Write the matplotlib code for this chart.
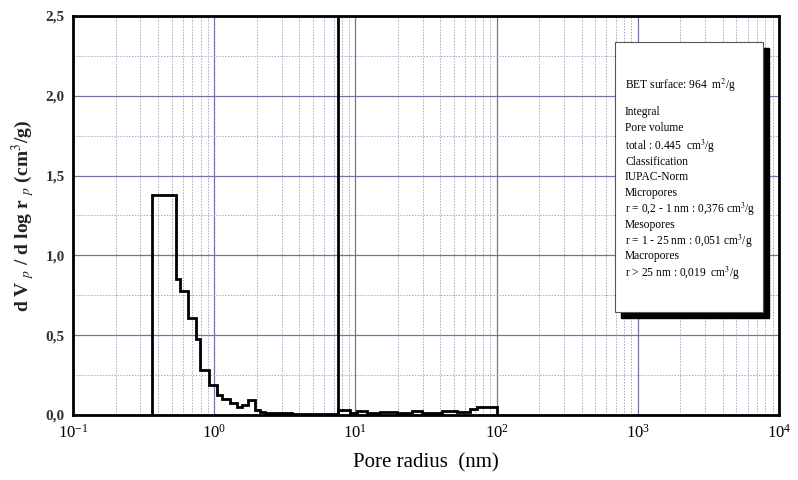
import matplotlib
matplotlib.use("Agg")
import matplotlib.pyplot as plt
from matplotlib.patches import Rectangle
from matplotlib.ticker import LogLocator, MultipleLocator, FuncFormatter

plt.rcParams.update({"font.family": ["Liberation Serif", "DejaVu Serif"],
                     "mathtext.fontset": "stix"})

# pore-size distribution, bin edges (nm) and dV/dlog r (cm3/g)
edges = [0.365, 0.536, 0.573, 0.656, 0.740, 0.792, 0.918, 1.04, 1.13, 1.29, 1.44,
         1.57, 1.74, 1.95, 2.11, 2.29, 3.54, 7.53, 9.16, 10.3, 12.1, 14.9, 19.7,
         25.2, 29.6, 41.0, 52.4, 64.8, 72.6, 100.0]
dv = [1.38, 0.85, 0.775, 0.61, 0.475, 0.28, 0.19, 0.125, 0.10, 0.073,
      0.052, 0.063, 0.094, 0.031, 0.021, 0.012, 0.006, 0.03, 0.015, 0.025,
      0.012, 0.02, 0.01, 0.025, 0.012, 0.025, 0.02, 0.035, 0.05]
split_r = 7.53  # boundary line between methods

info_lines = [
    (r"BET surface: 964  m$^2$/g", 85),
    ("Integral", 112),
    ("Pore volume", 128),
    (r"total : 0.445  cm$^3$/g", 146),
    ("Classification", 162),
    ("IUPAC-Norm", 177),
    ("Micropores", 193),
    (r"r = 0,2 - 1 nm : 0,376 cm$^3$/g", 209),
    ("Mesopores", 225),
    (r"r = 1 - 25 nm : 0,051 cm$^3$/g", 241),
    ("Macropores", 256),
    (r"r > 25 nm : 0,019  cm$^3$/g", 273),
]

fig = plt.figure(figsize=(7.98, 4.80), dpi=100)
ax = fig.add_axes([73/798, 65/480, 706/798, 399/480])

ax.set_xscale("log")
ax.set_xlim(0.1, 1e4)
ax.set_ylim(0, 2.5)
ax.xaxis.set_major_locator(LogLocator(base=10, numticks=10))
ax.xaxis.set_minor_locator(LogLocator(base=10, subs=range(2, 10), numticks=100))
ax.yaxis.set_major_locator(MultipleLocator(0.5))
ax.yaxis.set_minor_locator(MultipleLocator(0.25))
ax.yaxis.set_major_formatter(FuncFormatter(lambda v, p: f"{v:.1f}".replace(".", ",")))

ax.grid(which="major", color="#7474a4", lw=0.9, ls="-")
ax.grid(which="minor", color="#a8a8c4", lw=0.7, ls=(0, (1.5, 1.5)))
ax.set_axisbelow(True)

ax.stairs(dv, edges, baseline=0, fill=False, color="black", lw=2.0, zorder=3)
ax.axvline(split_r, color="black", lw=2.0, zorder=3)

for s in ax.spines.values():
    s.set_linewidth(2.0)
ax.tick_params(which="both", length=0, pad=6)
ax.tick_params(axis="x", labelsize=12)
ax.tick_params(axis="y", labelsize=11, labelcolor="#333333")
for lbl in ax.get_yticklabels():
    lbl.set_fontweight("bold")

ax.set_xlabel("Pore radius  (nm)", fontsize=15, labelpad=9)
ax.set_ylabel(r"d V $_p$ / d log r $_p$ (cm$^3$/g)", fontsize=14, fontweight="bold",
              labelpad=6, color="#222222")

# info box with shadow
def fx(px):
    return (px - 73) / 706

def fy(py):
    return (415 - py) / 399

bx0, bx1, by0, by1 = fx(615), fx(763), fy(312), fy(42)
ax.add_patch(Rectangle((bx0 + 0.008, by0 - 0.014), bx1 - bx0, by1 - by0,
                       transform=ax.transAxes, facecolor="black", edgecolor="black", zorder=4))
ax.add_patch(Rectangle((bx0, by0), bx1 - bx0, by1 - by0, transform=ax.transAxes,
                       facecolor="white", edgecolor="#555555", lw=0.8, zorder=5))
for txt, py in info_lines:
    ax.text(fx(625), fy(py), txt, transform=ax.transAxes, fontsize=8.3,
            va="center", ha="left", zorder=6)

fig.savefig("out.png", dpi=100)
